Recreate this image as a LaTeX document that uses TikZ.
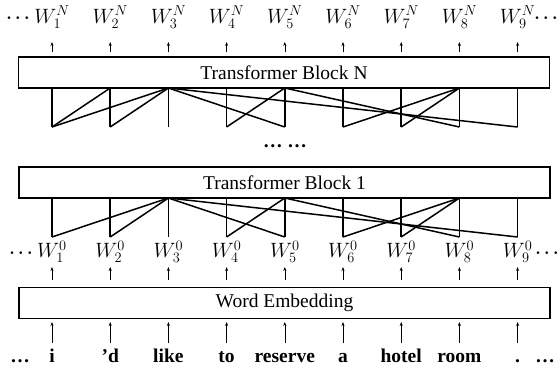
\documentclass[tikz,border=0pt]{standalone}
\usepackage{fontspec}
\setmainfont{Liberation Serif}
\usetikzlibrary{arrows.meta}

\tikzset{
  blockbox/.style={draw, line width=1.6pt, minimum height=31pt, inner sep=0pt,
    font=\fontsize{19.5}{22}\selectfont},
  link/.style={line width=1.5pt, line join=round},
  uparrow/.style={line width=0.6pt, -{Stealth[length=4pt,width=3pt]}},
  wlabel/.style={inner sep=0pt, font=\fontsize{20}{22}\selectfont},
  word/.style={inner sep=0pt, font=\fontsize{19.5}{22}\selectfont\bfseries},
  dots/.style={inner sep=0pt, font=\fontsize{16.5}{18}\selectfont\boldmath},
}

\begin{document}
\begin{tikzpicture}[x=1pt, y=-1pt]
\useasboundingbox (0,0) rectangle (560,368);

% stacked blocks
\node[blockbox, minimum width=531pt] (blkN) at (284,72.5) {Transformer Block N};
\node[blockbox, minimum width=531pt] (blk1) at (284.5,182.5) {Transformer Block 1};
\node[blockbox, minimum width=531pt] (emb)  at (284.5,303) {Word Embedding};

\node[inner sep=0pt, font=\fontsize{19.5}{22}\selectfont\bfseries] (mid) at (285,146) {\ldots\ \ldots};

% per-column anchors, labels and arrows
\foreach \i/\w in {1/i,2/{’d},3/like,4/to,5/reserve,6/a,7/hotel,8/room,9/.} {
  \pgfmathsetmacro\xx{52+58.2*(\i-1)}
  % outputs of block N
  \node[wlabel] (wN\i) at (\xx,17) {$W_{\i}^{N}$};
  \coordinate (aNt\i) at (\xx,42);
  \coordinate (aNb\i) at (\xx,52);
  \draw[uparrow] (aNb\i) -- (aNt\i);
  % attention links under block N
  \coordinate (nt\i) at (\xx,88);
  \coordinate (nb\i) at (\xx,127);
  \draw[link] (nt\i) -- (nb\i);
  % attention links under block 1
  \coordinate (ot\i) at (\xx,198);
  \coordinate (ob\i) at (\xx,237);
  \draw[link] (ot\i) -- (ob\i);
  % embeddings
  \node[wlabel] (w0\i) at (\xx,252) {$W_{\i}^{0}$};
  \coordinate (a0t\i) at (\xx,267);
  \coordinate (a0b\i) at (\xx,280);
  \draw[uparrow] (a0b\i) -- (a0t\i);
  % input tokens
  \node[word, anchor=base] (tok\i) at (\xx,362) {\w};
  \coordinate (ait\i) at (\xx,322);
  \coordinate (aib\i) at (\xx,343);
  \draw[uparrow] (aib\i) -- (ait\i);
}

% cross links, block N
\foreach \a/\b in {2/1,3/1,3/2,3/5,3/9,5/4,5/8,8/6,8/7}
  \draw[link] (nt\a) -- (nb\b);
% cross links, block 1
\foreach \a/\b in {3/1,3/2,3/5,3/9,5/4,5/8,8/6,8/7}
  \draw[link] (ot\a) -- (ob\b);

% ellipses at the row ends
\node[dots] (dNl) at (18,18) {$\cdots$};
\node[dots] (dNr) at (546,18) {$\cdots$};
\node[dots] (d0l) at (21,253) {$\cdots$};
\node[dots] (d0r) at (547,253) {$\cdots$};
\node[word, anchor=base] (dil) at (20,362) {\ldots};
\node[word, anchor=base] (dir) at (545,362) {\ldots};
\end{tikzpicture}
\end{document}
